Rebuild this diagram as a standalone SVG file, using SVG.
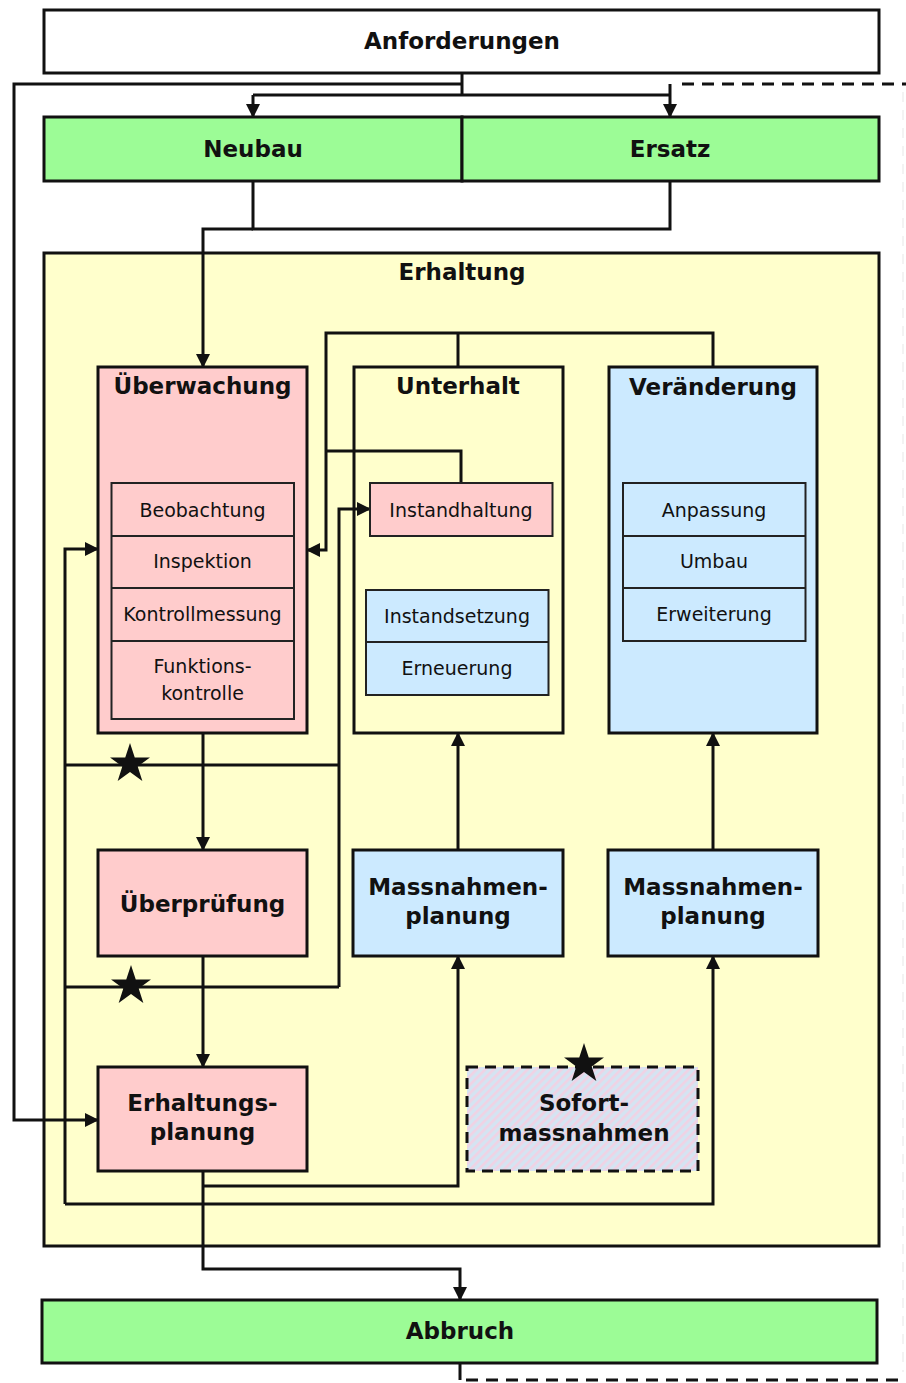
<svg xmlns="http://www.w3.org/2000/svg" width="906" height="1383" viewBox="0 0 906 1383">
<defs>
<marker id="arr" viewBox="0 0 14 14" refX="13" refY="7" markerWidth="14" markerHeight="14" markerUnits="userSpaceOnUse" orient="auto">
<path d="M0,0 L14,7 L0,14 z" fill="#111"/>
</marker>
<pattern id="hatch" width="6" height="6" patternUnits="userSpaceOnUse" patternTransform="rotate(45)">
<rect width="6" height="6" fill="#d4e4f2"/>
<rect width="2.6" height="6" fill="#f0d2e4"/>
</pattern>
<path id="star" d="M0,-21 L4.76,-6.55 L19.97,-6.49 L7.7,2.5 L12.34,16.99 L0,8.1 L-12.34,16.99 L-7.7,2.5 L-19.97,-6.49 L-4.76,-6.55 Z" fill="#111"/>
</defs>
<style>
.box{stroke:#111;stroke-width:3}
.sub{stroke:#222;stroke-width:2}
.green{fill:#9cfc96}
.pink{fill:#ffcccc}
.blue{fill:#cceaff}
.yellow{fill:#ffffcc}
.white{fill:#fff}
.b{font-family:"DejaVu Sans",Verdana,sans-serif;font-weight:bold;font-size:23px;fill:#111;text-anchor:middle}
.r{font-family:"DejaVu Sans",Verdana,sans-serif;font-size:19px;fill:#111;text-anchor:middle}
.c{fill:none;stroke:#111;stroke-width:3}
.d{fill:none;stroke:#111;stroke-width:3;stroke-dasharray:12 8}
</style>
<rect width="906" height="1383" fill="#fff"/>

<g id="erhaltung">
<rect class="box yellow" x="44" y="253" width="835" height="993"/>
<text class="b" x="462" y="280">Erhaltung</text>
</g>

<g id="unterhalt">
<rect class="box yellow" x="354" y="367" width="209" height="366"/>
<text class="b" x="458" y="394">Unterhalt</text>
</g>

<g id="connectors">
<path class="c" d="M462,73 V95"/>
<path class="c" d="M253,95 H670"/>
<path class="c" d="M253,95 V117" marker-end="url(#arr)"/>
<path class="c" d="M670,84 V117" marker-end="url(#arr)"/>
<path class="d" d="M682,84 H906"/>
<path class="c" d="M462,84 H14 V1120 H98" marker-end="url(#arr)"/>
<path class="c" d="M253,181 V229 H670 V181"/>
<path class="c" d="M253,229 H203 V367" marker-end="url(#arr)"/>
<path class="c" d="M713,367 V333 H326 V550 H307" marker-end="url(#arr)"/>
<path class="c" d="M458,333 V367"/>
<path class="c" d="M461,483 V451 H326"/>
<path class="c" d="M339,987 V509 H370" marker-end="url(#arr)"/>
<path class="c" d="M65,765 H339"/>
<path class="c" d="M65,987 H339"/>
<path class="c" d="M65,1204 V549 H98" marker-end="url(#arr)"/>
<path class="c" d="M65,1204 H713 V956" marker-end="url(#arr)"/>
<path class="c" d="M203,733 V850" marker-end="url(#arr)"/>
<path class="c" d="M203,956 V1067" marker-end="url(#arr)"/>
<path class="c" d="M203,1171 V1269 H460 V1300" marker-end="url(#arr)"/>
<path class="c" d="M203,1186 H458 V956" marker-end="url(#arr)"/>
<path class="c" d="M458,850 V733" marker-end="url(#arr)"/>
<path class="c" d="M713,850 V733" marker-end="url(#arr)"/>
<path class="c" d="M460,1363 V1380"/>
<path class="d" d="M466,1380 H906"/>
<path d="M903,92 V1372" fill="none" stroke="#f0f0f0" stroke-width="1.5" stroke-dasharray="10 8"/>
<use href="#star" x="130" y="764"/>
<use href="#star" x="131" y="986"/>
</g>

<g id="anforderungen">
<rect class="box white" x="44" y="10" width="835" height="63"/>
<text class="b" x="462" y="49">Anforderungen</text>
</g>

<g id="neubau">
<rect class="box green" x="44" y="117" width="418" height="64"/>
<text class="b" x="253" y="157">Neubau</text>
</g>

<g id="ersatz">
<rect class="box green" x="462" y="117" width="417" height="64"/>
<text class="b" x="670" y="157">Ersatz</text>
</g>

<g id="ueberwachung">
<rect class="box pink" x="98" y="367" width="209" height="366"/>
<text class="b" x="202.5" y="394">Überwachung</text>
<rect class="sub pink" x="111.5" y="483" width="182.5" height="236"/>
<path class="sub" d="M111.5,536 H294 M111.5,588 H294 M111.5,641 H294"/>
<text class="r" x="202.5" y="517">Beobachtung</text>
<text class="r" x="202.5" y="568">Inspektion</text>
<text class="r" x="202.5" y="621">Kontrollmessung</text>
<text class="r" x="202.5" y="673">Funktions-</text>
<text class="r" x="202.5" y="700">kontrolle</text>
</g>

<g id="instandhaltung">
<rect class="sub pink" x="370" y="483" width="182.5" height="53"/>
<text class="r" x="461" y="517">Instandhaltung</text>
</g>

<g id="instandsetzung">
<rect class="sub blue" x="366" y="590" width="182.5" height="105"/>
<path class="sub" d="M366,642 H548.5"/>
<text class="r" x="457" y="623">Instandsetzung</text>
<text class="r" x="457" y="675">Erneuerung</text>
</g>

<g id="veraenderung">
<rect class="box blue" x="609" y="367" width="208" height="366"/>
<text class="b" x="713" y="395">Veränderung</text>
<rect class="sub blue" x="623" y="483" width="182.5" height="158"/>
<path class="sub" d="M623,536 H805.5 M623,588 H805.5"/>
<text class="r" x="714" y="517">Anpassung</text>
<text class="r" x="714" y="568">Umbau</text>
<text class="r" x="714" y="621">Erweiterung</text>
</g>

<g id="ueberpruefung">
<rect class="box pink" x="98" y="850" width="209" height="106"/>
<text class="b" x="202.5" y="912">Überprüfung</text>
</g>

<g id="massnahmenplanung1">
<rect class="box blue" x="353" y="850" width="210" height="106"/>
<text class="b" x="458" y="895">Massnahmen-</text>
<text class="b" x="458" y="924">planung</text>
</g>

<g id="massnahmenplanung2">
<rect class="box blue" x="608" y="850" width="210" height="106"/>
<text class="b" x="713" y="895">Massnahmen-</text>
<text class="b" x="713" y="924">planung</text>
</g>

<g id="erhaltungsplanung">
<rect class="box pink" x="98" y="1067" width="209" height="104"/>
<text class="b" x="202.5" y="1111">Erhaltungs-</text>
<text class="b" x="202.5" y="1140">planung</text>
</g>

<g id="sofortmassnahmen">
<rect x="467" y="1067" width="231" height="104" fill="url(#hatch)" stroke="#111" stroke-width="3" stroke-dasharray="11 7"/>
<use href="#star" x="584" y="1064"/>
<text class="b" x="584" y="1111">Sofort-</text>
<text class="b" x="584" y="1141">massnahmen</text>
</g>

<g id="abbruch">
<rect class="box green" x="42" y="1300" width="835" height="63"/>
<text class="b" x="460" y="1339">Abbruch</text>
</g>
</svg>
